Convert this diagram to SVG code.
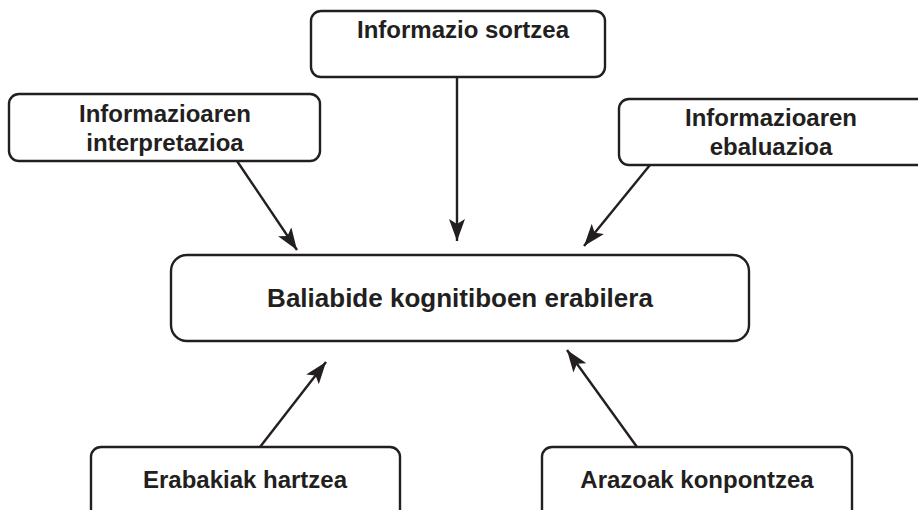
<svg xmlns="http://www.w3.org/2000/svg" width="918" height="510" viewBox="0 0 918 510">
<style>
.box{fill:#fff;stroke:#231f20;stroke-width:2.4}
.t{font-family:"Liberation Sans",Arial,sans-serif;font-weight:bold;font-size:24px;fill:#231f20;text-anchor:middle}
.big{font-size:26px}
.c{stroke:#231f20;stroke-width:2.4;fill:none;marker-end:url(#ah)}
</style>
<defs>
<marker id="ah" viewBox="0 0 22 16" refX="22" refY="8" markerWidth="22" markerHeight="16" markerUnits="userSpaceOnUse" orient="auto">
<path d="M0,0 L22,8 L0,16 L5,8 Z" fill="#231f20"/>
</marker>
</defs>
<rect width="918" height="510" fill="#fff"/>
<g id="connectors">
<line class="c" x1="457" y1="77" x2="457" y2="241"/>
<line class="c" x1="237" y1="161" x2="297" y2="250"/>
<line class="c" x1="650" y1="165" x2="584" y2="246"/>
<line class="c" x1="260" y1="447" x2="326" y2="362"/>
<line class="c" x1="637" y1="447" x2="567" y2="350"/>
</g>
<g id="n-sortzea">
<rect class="box" x="311" y="11" width="294" height="66" rx="10"/>
<text class="t" x="463" y="38">Informazio sortzea</text>
</g>
<g id="n-interpretazioa">
<rect class="box" x="9" y="94" width="311" height="67" rx="10"/>
<text class="t" x="165" y="122">Informazioaren</text>
<text class="t" x="165" y="151">interpretazioa</text>
</g>
<g id="n-ebaluazioa">
<rect class="box" x="619" y="99" width="310" height="66" rx="10"/>
<text class="t" x="771" y="126">Informazioaren</text>
<text class="t" x="771" y="155">ebaluazioa</text>
</g>
<g id="n-erabilera">
<rect class="box" x="171" y="255" width="578" height="86" rx="16"/>
<text class="t big" x="460" y="307">Baliabide kognitiboen erabilera</text>
</g>
<g id="n-erabakiak">
<rect class="box" x="91" y="447" width="309" height="80" rx="10"/>
<text class="t" x="245" y="488">Erabakiak hartzea</text>
</g>
<g id="n-arazoak">
<rect class="box" x="542" y="447" width="310" height="80" rx="10"/>
<text class="t" x="697" y="488">Arazoak konpontzea</text>
</g>
</svg>
